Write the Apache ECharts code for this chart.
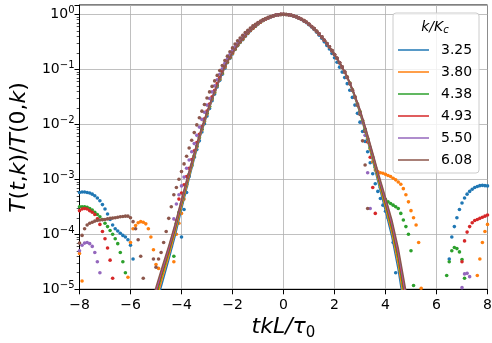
<!DOCTYPE html>
<html><head><meta charset="utf-8">
<script src="https://cdn.jsdelivr.net/npm/echarts@6/dist/echarts.min.js"></script>
<style>html,body{margin:0;padding:0;background:#fff}#c{width:492px;height:343px}</style>
</head><body><div id="c"></div>
<script>
const N = null;
const kLabels = ['3.25','3.80','4.38','4.93','5.50','6.08'];
const colors = ['#1f77b4','#ff7f0e','#2ca02c','#d62728','#9467bd','#8c564b'];
const xTicks = [-8,-6,-4,-2,0,2,4,6,8];
const yTickExps = [-5,-4,-3,-2,-1,0];

// theory curves: log10 T(t,k)/T(0,k)
const xLine = [-5.25,-5,-4.75,-4.5,-4.25,-4,-3.75,-3.5,-3.25,-3,-2.75,-2.5,-2.25,-2,-1.75,-1.5,-1.25,-1,-0.75,-0.5,-0.25,0,0.25,0.5,0.75,1,1.25,1.5,1.75,2,2.25,2.5,2.75,3,3.25,3.5,3.75,4,4.25,4.5,4.75,5];
const lineBlue   = [-5.8,-5.30,-4.88,-4.47,-4.03,-3.55,-3.08,-2.63,-2.20,-1.83,-1.49,-1.18,-0.90,-0.70,-0.53,-0.39,-0.27,-0.17,-0.095,-0.042,-0.01,0,-0.012,-0.045,-0.10,-0.18,-0.28,-0.41,-0.56,-0.73,-0.92,-1.15,-1.45,-1.80,-2.22,-2.67,-3.13,-3.58,-4.05,-4.65,-5.40,-6.2];
const lineOrange = [-5.7,-5.21,-4.80,-4.40,-3.97,-3.50,-3.04,-2.60,-2.18,-1.815,-1.48,-1.17,-0.90,-0.70,-0.53,-0.39,-0.27,-0.17,-0.095,-0.042,-0.01,0,-0.012,-0.045,-0.10,-0.18,-0.28,-0.41,-0.56,-0.73,-0.92,-1.145,-1.44,-1.785,-2.195,-2.635,-3.085,-3.52,-3.975,-4.55,-5.28,-6.05];
const lineGreen  = [-5.6,-5.12,-4.72,-4.33,-3.91,-3.45,-3.00,-2.57,-2.16,-1.80,-1.47,-1.17,-0.90,-0.70,-0.53,-0.39,-0.27,-0.17,-0.095,-0.042,-0.01,0,-0.012,-0.045,-0.10,-0.18,-0.28,-0.41,-0.56,-0.73,-0.92,-1.14,-1.43,-1.77,-2.17,-2.6,-3.04,-3.46,-3.9,-4.45,-5.15,-5.9];
const lineRed    = [-5.54,-5.065,-4.67,-4.29,-3.875,-3.42,-2.975,-2.55,-2.15,-1.79,-1.47,-1.17,-0.90,-0.70,-0.53,-0.39,-0.27,-0.17,-0.095,-0.042,-0.01,0,-0.012,-0.045,-0.10,-0.18,-0.28,-0.41,-0.56,-0.73,-0.92,-1.14,-1.42,-1.755,-2.15,-2.57,-3.005,-3.415,-3.845,-4.38,-5.065,-5.8];
const linePurple = [-5.48,-5.01,-4.62,-4.245,-3.84,-3.39,-2.95,-2.53,-2.135,-1.78,-1.46,-1.17,-0.90,-0.70,-0.53,-0.39,-0.27,-0.17,-0.095,-0.042,-0.01,0,-0.012,-0.045,-0.10,-0.18,-0.28,-0.41,-0.56,-0.73,-0.92,-1.135,-1.415,-1.745,-2.13,-2.545,-2.97,-3.37,-3.79,-4.315,-4.98,-5.7];
const lineBrown  = [-5.42,-4.96,-4.58,-4.21,-3.81,-3.365,-2.93,-2.515,-2.12,-1.77,-1.455,-1.16,-0.90,-0.70,-0.53,-0.39,-0.27,-0.17,-0.095,-0.042,-0.01,0,-0.012,-0.045,-0.10,-0.18,-0.28,-0.41,-0.56,-0.73,-0.92,-1.13,-1.41,-1.73,-2.11,-2.52,-2.94,-3.33,-3.74,-4.25,-4.9,-5.6];

// measured points: log10 values on t = -8 ... 8, step 0.1
const dotStart = -8, dotStep = 0.1;
const dotsBlue = [
-3.24,-3.23,-3.23,-3.24,-3.25,-3.27,-3.30,-3.34,-3.39,-3.46,
-3.54,-3.63,-3.73,-3.83,-3.90,-3.94,-3.98,-4.02,-4.05,-4.10,
-4.20,-4.45,N,N,N,N,N,N,N,N,
N,N,N,N,N,N,N,N,N,N,
-4.05,-3.55,-3.24,-2.95,-2.76,-2.60,-2.46,-2.30,-2.14,-1.99,
-1.85,-1.71,-1.57,-1.45,-1.32,-1.20,-1.09,-0.98,-0.88,-0.80,
-0.72,-0.64,-0.57,-0.51,-0.46,-0.40,-0.35,-0.30,-0.255,-0.215,
-0.175,-0.14,-0.11,-0.087,-0.066,-0.046,-0.03,-0.016,-0.007,-0.002,
0,-0.002,-0.008,-0.018,-0.032,-0.048,-0.07,-0.095,-0.12,-0.152,
-0.19,-0.23,-0.275,-0.325,-0.38,-0.435,-0.5,-0.565,-0.63,-0.71,
-0.79,-0.87,-0.96,-1.05,-1.15,-1.26,-1.38,-1.51,-1.65,-1.80,
-1.96,-2.13,-2.31,-2.50,-2.70,-2.90,-3.08,-3.22,-3.35,-3.47,
-3.58,-3.70,-3.85,-4.15,-4.70,N,N,N,N,N,
N,N,N,N,N,N,N,N,N,N,
N,N,N,N,N,-4.45,-4.05,-3.86,-3.70,-3.55,
-3.43,-3.34,-3.27,-3.22,-3.18,-3.15,-3.13,-3.115,-3.11,-3.115,
-3.12];
const dotsOrange = [
-4.35,-4.85,N,N,N,N,N,N,N,N,
N,N,N,N,N,N,N,N,N,-4.78,
-4.15,-3.90,-3.84,-3.79,-3.77,-3.78,-3.81,-3.90,-4.05,-4.28,
-4.55,-4.62,N,N,N,N,N,-4.50,-4.00,-3.80,
-3.62,-3.36,-3.12,-2.93,-2.75,-2.58,-2.41,-2.25,-2.10,-1.95,
-1.81,-1.68,-1.54,-1.42,-1.30,-1.18,-1.07,-0.96,-0.87,-0.79,
-0.71,-0.635,-0.565,-0.505,-0.455,-0.395,-0.345,-0.295,-0.252,-0.212,
-0.172,-0.141,-0.111,-0.086,-0.066,-0.045,-0.029,-0.016,-0.007,-0.002,
0,-0.002,-0.008,-0.017,-0.03,-0.045,-0.067,-0.09,-0.115,-0.145,
-0.18,-0.22,-0.26,-0.31,-0.36,-0.41,-0.47,-0.53,-0.59,-0.66,
-0.73,-0.80,-0.88,-0.96,-1.05,-1.14,-1.25,-1.37,-1.50,-1.63,
-1.77,-1.93,-2.09,-2.26,-2.45,-2.68,-2.83,-2.86,-2.88,-2.89,
-2.91,-2.93,-2.95,-2.98,-3.01,-3.05,-3.09,-3.17,-3.28,-3.41,
-3.57,-3.70,-3.83,-4.15,-4.98,N,N,N,N,N,
N,N,N,N,N,N,N,N,N,N,
N,N,N,N,N,N,-4.75,-4.45,-4.15,-3.95,
-3.82];
const dotsGreen = [
-3.50,-3.50,-3.50,-3.51,-3.53,-3.56,-3.60,-3.64,-3.68,-3.73,
-3.80,-3.86,-3.93,-4.00,-4.08,-4.17,-4.33,-4.50,-4.70,N,
N,N,N,N,N,N,N,N,N,N,
N,N,N,N,N,N,N,-4.40,-3.80,-3.60,
-3.44,-3.27,-3.09,-2.91,-2.74,-2.57,-2.40,-2.24,-2.09,-1.94,
-1.80,-1.67,-1.53,-1.41,-1.29,-1.17,-1.06,-0.95,-0.86,-0.78,
-0.70,-0.63,-0.56,-0.50,-0.45,-0.39,-0.34,-0.29,-0.25,-0.21,
-0.17,-0.14,-0.11,-0.085,-0.065,-0.045,-0.029,-0.016,-0.007,-0.002,
0,-0.002,-0.008,-0.017,-0.03,-0.045,-0.067,-0.09,-0.115,-0.145,
-0.18,-0.22,-0.26,-0.31,-0.36,-0.41,-0.47,-0.53,-0.59,-0.66,
-0.73,-0.80,-0.88,-0.96,-1.05,-1.14,-1.25,-1.37,-1.50,-1.63,
-1.77,-1.93,-2.09,-2.26,-2.43,-2.60,-2.78,-2.95,-3.15,-3.30,
-3.37,-3.41,-3.44,-3.47,-3.50,-3.53,-3.62,-3.74,-3.86,-4.00,
-4.30,-4.93,N,N,N,N,N,N,N,N,
N,N,N,N,-4.75,-4.50,-4.30,-4.24,-4.26,-4.32,
-4.46,-4.80,N,N,N,N,N,N,N,N,
N];
const dotsRed = [
-3.57,-3.54,-3.53,-3.54,-3.57,-3.60,-3.64,-3.72,-3.82,-3.95,
-4.08,-4.25,-4.47,-4.80,N,N,N,N,N,N,
N,N,N,N,N,N,N,N,N,N,
N,N,N,N,N,N,N,N,-3.75,-3.36,
-3.25,-3.10,-2.95,-2.80,-2.64,-2.48,-2.33,-2.18,-2.04,-1.90,
-1.76,-1.63,-1.50,-1.38,-1.26,-1.15,-1.04,-0.94,-0.85,-0.77,
-0.69,-0.62,-0.555,-0.495,-0.445,-0.385,-0.335,-0.287,-0.247,-0.207,
-0.168,-0.138,-0.108,-0.084,-0.064,-0.044,-0.028,-0.015,-0.006,-0.001,
0,-0.002,-0.008,-0.017,-0.03,-0.045,-0.067,-0.09,-0.115,-0.145,
-0.18,-0.22,-0.26,-0.31,-0.36,-0.41,-0.47,-0.53,-0.59,-0.66,
-0.73,-0.80,-0.88,-0.96,-1.05,-1.15,-1.26,-1.38,-1.51,-1.65,
-1.80,-1.96,-2.13,-2.32,-2.60,-3.15,-3.62,N,N,N,
N,N,N,N,N,N,N,N,N,N,
N,N,N,N,N,N,N,N,N,N,
N,N,N,N,N,N,N,N,N,N,
-4.50,-4.12,-3.96,-3.86,-3.79,-3.75,-3.73,-3.71,-3.69,-3.67,
-3.65];
const dotsPurple = [
-4.30,-4.20,-4.16,-4.15,-4.17,-4.22,-4.33,-4.50,-4.70,N,
N,N,N,N,N,N,N,N,N,N,
N,N,N,N,N,N,N,N,N,N,
N,N,N,N,N,N,-4.22,-3.72,-3.45,-3.28,
-3.12,-2.96,-2.80,-2.65,-2.50,-2.35,-2.20,-2.05,-1.91,-1.78,
-1.65,-1.53,-1.41,-1.30,-1.19,-1.09,-0.99,-0.89,-0.81,-0.73,
-0.66,-0.59,-0.53,-0.47,-0.42,-0.36,-0.315,-0.27,-0.23,-0.195,
-0.16,-0.13,-0.103,-0.08,-0.06,-0.043,-0.027,-0.015,-0.006,-0.001,
0,-0.002,-0.008,-0.017,-0.03,-0.045,-0.067,-0.09,-0.115,-0.145,
-0.18,-0.22,-0.26,-0.31,-0.36,-0.41,-0.47,-0.53,-0.59,-0.66,
-0.73,-0.80,-0.88,-0.96,-1.05,-1.15,-1.26,-1.38,-1.51,-1.65,
-1.80,-1.97,-2.20,-2.88,-3.53,N,N,N,N,N,
N,N,N,N,N,N,N,N,N,N,
N,N,N,N,N,N,N,N,N,N,
N,N,N,N,N,N,N,N,N,N,
-4.97,-4.72,-4.71,-4.77,N,N,N,N,N,N,
N];
const dotsBrown = [
-4.16,-4.02,-3.90,-3.83,-3.80,-3.78,-3.76,-3.75,-3.74,-3.735,
-3.73,-3.72,-3.71,-3.705,-3.70,-3.69,-3.68,-3.675,-3.67,-3.67,
-3.70,-3.77,-3.90,-4.10,-4.40,-4.80,N,N,N,-4.45,
-4.60,-4.45,-4.33,-4.15,-3.95,-3.71,-3.50,-3.28,-3.15,-3.00,
-2.86,-2.72,-2.58,-2.43,-2.29,-2.15,-2.01,-1.88,-1.76,-1.64,
-1.52,-1.41,-1.31,-1.21,-1.11,-1.02,-0.93,-0.84,-0.76,-0.68,
-0.61,-0.54,-0.48,-0.43,-0.38,-0.33,-0.29,-0.25,-0.21,-0.18,
-0.15,-0.12,-0.095,-0.075,-0.055,-0.04,-0.025,-0.014,-0.006,-0.001,
0,-0.002,-0.008,-0.017,-0.03,-0.045,-0.067,-0.09,-0.115,-0.145,
-0.18,-0.22,-0.26,-0.31,-0.36,-0.41,-0.47,-0.53,-0.59,-0.66,
-0.73,-0.80,-0.88,-0.96,-1.05,-1.15,-1.26,-1.38,-1.51,-1.65,
-1.82,-2.30,-2.74,-3.53,N,N,N,N,N,N,
N,N,N,N,N,N,N,N,N,N,
N,N,N,N,N,N,N,N,N,N,
N,N,N,N,N,N,N,N,N,N,
N,N,N,N,N,N,N,N,N,N,
N];

const lines = [lineBlue, lineOrange, lineGreen, lineRed, linePurple, lineBrown];
const dots = [dotsBlue, dotsOrange, dotsGreen, dotsRed, dotsPurple, dotsBrown];

const FONT = 'DejaVu Sans';
const YMIN = yTickExps[0], YMAX = 0.17;
const minorTicks = [];
for (let n = YMIN; n < 0; n++) for (let m = 2; m <= 9; m++) minorTicks.push(n + Math.log10(m));
const minus = v => v < 0 ? '\u2212' + (-v) : String(v);

const series = [];
dots.forEach((arr, i) => {
  const data = [];
  arr.forEach((v, j) => { if (v !== null) data.push([+(dotStart + j * dotStep).toFixed(2), v]); });
  series.push({type:'scatter', name:'pts' + i, data, symbolSize:3.6, z:2, silent:true,
    itemStyle:{color:colors[i], opacity:1}, animation:false});
});
lines.forEach((arr, i) => {
  series.push({type:'line', name:kLabels[i], data:xLine.map((x, j) => [x, arr[j]]),
    symbol:'none', z:3, clip:true, silent:true,
    lineStyle:{color:colors[i], width:1.5}, itemStyle:{color:colors[i]}, animation:false});
});

const chart = echarts.init(document.getElementById('c'), null, {renderer:'canvas'});
chart.setOption({
  backgroundColor:'#fff',
  animation:false,
  grid:{left:79.5, right:4.5, top:5, bottom:53.7, show:true, borderColor:'#000', borderWidth:1,
        containLabel:false, outerBoundsMode:'none'},
  xAxis:{type:'value', min:xTicks[0], max:xTicks[xTicks.length-1], interval:2,
    axisLine:{show:true, onZero:false, lineStyle:{color:'#000', width:1}},
    axisTick:{show:true, inside:false, length:5, lineStyle:{color:'#000', width:1}},
    axisLabel:{margin:9, fontFamily:FONT, fontSize:14, color:'#000', formatter:minus},
    splitLine:{show:true, lineStyle:{color:'#b0b0b0', width:0.8}}},
  yAxis:[{type:'value', min:YMIN, max:YMAX, interval:1,
    axisLine:{show:true, onZero:false, lineStyle:{color:'#000', width:1}},
    axisTick:{show:true, inside:false, length:5, lineStyle:{color:'#000', width:1}},
    axisLabel:{margin:5, color:'#000',
      formatter: v => (Math.abs(v - Math.round(v)) < 1e-9 && yTickExps.includes(Math.round(v))) ? '{b|10}{sup|' + minus(Math.round(v)) + '}' : '',
      rich:{b:{fontFamily:FONT, fontSize:14, lineHeight:18, color:'#000'},
            sup:{fontFamily:FONT, fontSize:10, lineHeight:10, verticalAlign:'top', color:'#000'}}},
    splitLine:{show:true, lineStyle:{color:'#b0b0b0', width:0.8}}},
   {type:'value', min:YMIN, max:YMAX, position:'left',
    axisLine:{show:false, onZero:false}, axisLabel:{show:false}, splitLine:{show:false},
    axisTick:{show:true, inside:false, length:2.8, customValues:minorTicks, lineStyle:{color:'#000', width:0.7}}}],
  legend:{data:kLabels.map(n => ({name:n, icon:'rect'})), orient:'vertical', left:398, top:43,
    itemWidth:31, itemHeight:1.5, itemGap:8, selectedMode:false, z:11, padding:0,
    itemStyle:{borderWidth:0},
    textStyle:{fontFamily:FONT, fontSize:14, color:'#000', lineHeight:14, padding:[0,0,0,7]}},
  graphic:[
    {type:'rect', z:10, shape:{x:393, y:13, width:86, height:160, r:3},
      style:{fill:'rgba(255,255,255,0.8)', stroke:'#cccccc', lineWidth:1}},
    {type:'text', z:12, x:435, y:26.9, style:{text:'{i|k/K}{s|c}', align:'center', verticalAlign:'middle',
      rich:{i:{fontFamily:FONT, fontStyle:'italic', fontSize:14, lineHeight:18, fill:'#000'},
            s:{fontFamily:FONT, fontStyle:'italic', fontSize:10, lineHeight:10, verticalAlign:'bottom', fill:'#000'}}}},
    {type:'text', z:12, x:283.5, y:327.4, style:{text:'{i|tkL/\u03c4}{s|0}', align:'center', verticalAlign:'middle',
      rich:{i:{fontFamily:FONT, fontStyle:'italic', fontSize:22, lineHeight:26, fill:'#000'},
            s:{fontFamily:FONT, fontSize:15, lineHeight:14, verticalAlign:'bottom', fill:'#000'}}}},
    {type:'text', z:12, x:19.4, y:147.5, rotation:Math.PI/2,
      style:{text:'{i|T}{n|(}{i|t}{n|,}{i|k}{n|)/}{i|T}{n|(0,}{i|k}{n|)}', align:'center', verticalAlign:'middle',
      rich:{i:{fontFamily:FONT, fontStyle:'italic', fontSize:22, fill:'#000'},
            n:{fontFamily:FONT, fontSize:22, fill:'#000'}}}}
  ],
  series
});
</script></body></html>
